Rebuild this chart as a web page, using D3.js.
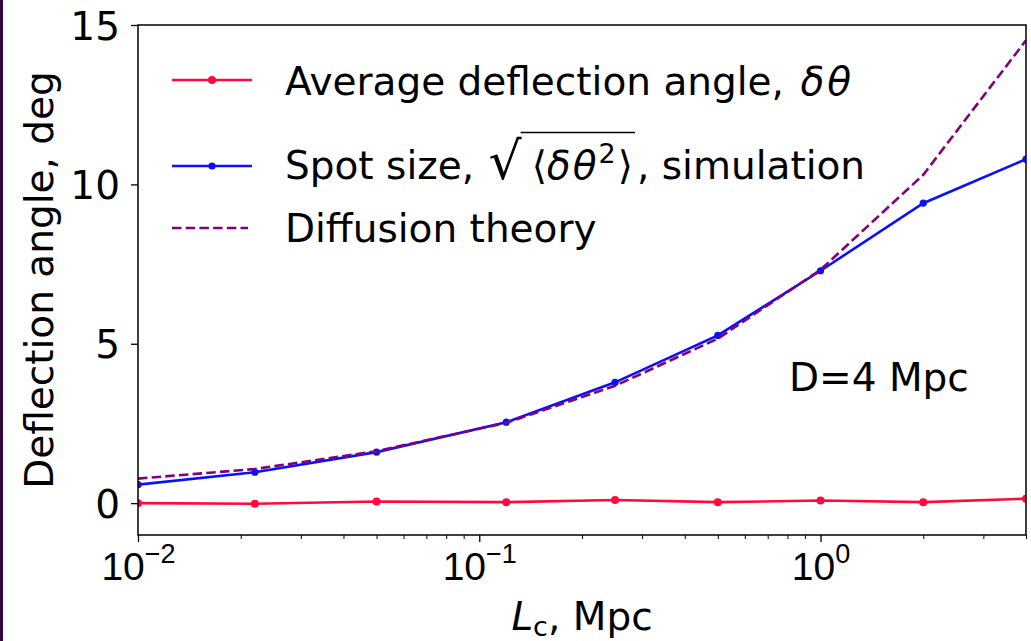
<!DOCTYPE html>
<html>
<head>
<meta charset="utf-8">
<script src="https://cdn.jsdelivr.net/npm/d3@7"></script>
<style>
  html, body { margin: 0; padding: 0; background: #fff; }
  svg { display: block; font-family: "DejaVu Sans", sans-serif; }
</style>
</head>
<body>
<svg id="chart" width="1031" height="641"></svg>
<script>
// ---- data ----
const lc = [0.01, 0.022, 0.05, 0.12, 0.25, 0.5, 1, 2, 4];
const avgDeflection = [0.0, -0.02, 0.05, 0.03, 0.10, 0.03, 0.08, 0.03, 0.14];
const spotSize = [0.58, 0.97, 1.60, 2.54, 3.79, 5.26, 7.29, 9.41, 10.79];
const diffusion = [0.77, 1.07, 1.63, 2.52, 3.68, 5.16, 7.32, 10.30, 14.52];
const yTicks = [0, 5, 10, 15];
const xMajorTicks = [0.01, 0.1, 1];
const xMajorExp = ["\u22122", "\u22121", "0"];
const xMinorTicks = [0.02,0.03,0.04,0.05,0.06,0.07,0.08,0.09,0.2,0.3,0.4,0.5,0.6,0.7,0.8,0.9,2,3,4];

const svg = d3.select("#chart");
const W = 1031, H = 641;
const m = {left: 138, right: 1026, top: 25, bottom: 535};
const FS = 39;

// left dark border
svg.append("rect").attr("x", 0).attr("y", 0).attr("width", 3).attr("height", H).attr("fill", "#32083f");

const x = d3.scaleLog().domain([0.01, 4]).range([m.left, m.right]);
const y = d3.scaleLinear().domain([-1, 15]).range([m.bottom, m.top]);

// clip
svg.append("defs").append("clipPath").attr("id", "plotclip")
  .append("rect").attr("x", m.left).attr("y", m.top)
  .attr("width", m.right - m.left).attr("height", m.bottom - m.top);

const plot = svg.append("g").attr("clip-path", "url(#plotclip)");

const line = (vals) => d3.line().x((d, i) => x(lc[i])).y(d => y(d))(vals);

const red = "#ff0a3c", blue = "#0a10ff", purple = "#800080";

plot.append("path").attr("d", line(avgDeflection)).attr("fill", "none")
  .attr("stroke", red).attr("stroke-width", 2.6);
plot.selectAll(".rdot").data(avgDeflection).enter().append("circle")
  .attr("cx", (d, i) => x(lc[i])).attr("cy", d => y(d)).attr("r", 4).attr("fill", red);

plot.append("path").attr("d", line(spotSize)).attr("fill", "none")
  .attr("stroke", blue).attr("stroke-width", 2.6);
plot.selectAll(".bdot").data(spotSize).enter().append("circle")
  .attr("cx", (d, i) => x(lc[i])).attr("cy", d => y(d)).attr("r", 3.6).attr("fill", blue);

plot.append("path").attr("d", line(diffusion)).attr("fill", "none")
  .attr("stroke", purple).attr("stroke-width", 2.6).attr("stroke-dasharray", "9.5,4.2");

// axes
const yAxis = d3.axisLeft(y).tickValues(yTicks).tickSize(7).tickPadding(11).tickFormat(d3.format("d"));
const gy = svg.append("g").attr("transform", `translate(${m.left},0)`).call(yAxis);
gy.select(".domain").remove();
gy.selectAll("line").attr("stroke", "#000").attr("stroke-width", 1.3);
gy.selectAll("text").attr("font-size", FS).attr("font-family", "DejaVu Sans").attr("fill", "#000")
  .attr("dy", null).attr("y", 14);

const xAxis = d3.axisBottom(x).tickValues(xMajorTicks).tickSize(7).tickFormat(() => "");
const gx = svg.append("g").attr("transform", `translate(0,${m.bottom})`).call(xAxis);
gx.select(".domain").remove();
gx.selectAll("line").attr("stroke", "#000").attr("stroke-width", 1.3);
gx.selectAll(".tick text").each(function(d, i) {
  const t = d3.select(this);
  t.attr("y", 45).attr("dy", null).attr("font-size", FS).attr("fill", "#000").attr("text-anchor", "middle");
  t.append("tspan").text("10");
  t.append("tspan").attr("font-size", 27).attr("dy", -17).text(xMajorExp[i]);
});

const xMinor = d3.axisBottom(x).tickValues(xMinorTicks).tickSize(4).tickFormat(() => "");
const gxm = svg.append("g").attr("transform", `translate(0,${m.bottom})`).call(xMinor);
gxm.select(".domain").remove();
gxm.selectAll("line").attr("stroke", "#000").attr("stroke-width", 1);

// frame
svg.append("rect").attr("x", m.left).attr("y", m.top)
  .attr("width", m.right - m.left).attr("height", m.bottom - m.top)
  .attr("fill", "none").attr("stroke", "#000").attr("stroke-width", 1.5);

// axis labels
svg.append("text").attr("transform", "translate(53,280) rotate(-90)")
  .attr("text-anchor", "middle").attr("font-size", FS).attr("fill", "#000")
  .text("Deflection angle, deg");

const xl = svg.append("text").attr("x", 582).attr("y", 630).attr("text-anchor", "middle")
  .attr("font-size", FS).attr("fill", "#000");
xl.append("tspan").attr("font-style", "italic").text("L");
xl.append("tspan").attr("font-size", 27).attr("dy", 6).text("c");
xl.append("tspan").attr("dy", -6).text(", Mpc");

// annotation
svg.append("text").attr("x", 789).attr("y", 391).attr("font-size", FS).attr("fill", "#000").text("D=4 Mpc");

// legend
const lg = svg.append("g");
const lx0 = 172, lx1 = 252, tx = 285;
lg.append("line").attr("x1", lx0).attr("x2", lx1).attr("y1", 80).attr("y2", 80).attr("stroke", red).attr("stroke-width", 2.6);
lg.append("circle").attr("cx", (lx0 + lx1) / 2).attr("cy", 80).attr("r", 4).attr("fill", red);
const t1 = lg.append("text").attr("x", tx).attr("y", 95).attr("font-size", FS).attr("fill", "#000");
t1.append("tspan").text("Average deflection angle, ");
t1.append("tspan").attr("font-style", "italic").attr("dx", 4).attr("letter-spacing", 3).text("\u03b4\u03b8");

lg.append("line").attr("x1", lx0).attr("x2", lx1).attr("y1", 166).attr("y2", 166).attr("stroke", blue).attr("stroke-width", 2.6);
lg.append("circle").attr("cx", (lx0 + lx1) / 2).attr("cy", 166).attr("r", 3.6).attr("fill", blue);
const t2 = lg.append("text").attr("x", tx).attr("y", 179).attr("font-size", FS).attr("fill", "#000");
t2.append("tspan").text("Spot size, ");
t2.append("tspan").attr("font-size", 52).attr("dx", 2).text("\u221a");
t2.append("tspan").attr("font-size", FS).attr("dx", 10).text("\u27e8");
t2.append("tspan").attr("font-style", "italic").attr("letter-spacing", 2).text("\u03b4\u03b8");
t2.append("tspan").attr("font-size", 27).attr("dy", -16).text("2");
t2.append("tspan").attr("font-size", FS).attr("dy", 16).attr("dx", 2).text("\u27e9");
t2.append("tspan").attr("dx", 4).text(", simulation");
// overline of radical
{
  const node = t2.node();
  const s = "Spot size, ".length;
  const radExt = node.getExtentOfChar(s);
  const closeIdx = s + 1 + 1 + 2 + 1;
  const cExt = node.getExtentOfChar(closeIdx);
  lg.append("line").attr("x1", radExt.x + radExt.width - 1).attr("x2", cExt.x + cExt.width + 2)
    .attr("y1", 132.5).attr("y2", 132.5).attr("stroke", "#000").attr("stroke-width", 1.6);
}

lg.append("line").attr("x1", lx0).attr("x2", lx1 - 4).attr("y1", 228).attr("y2", 228).attr("stroke", purple)
  .attr("stroke-width", 2.6).attr("stroke-dasharray", "9.5,4.2");
lg.append("text").attr("x", tx).attr("y", 242).attr("font-size", FS).attr("fill", "#000").text("Diffusion theory");
</script>
</body>
</html>
